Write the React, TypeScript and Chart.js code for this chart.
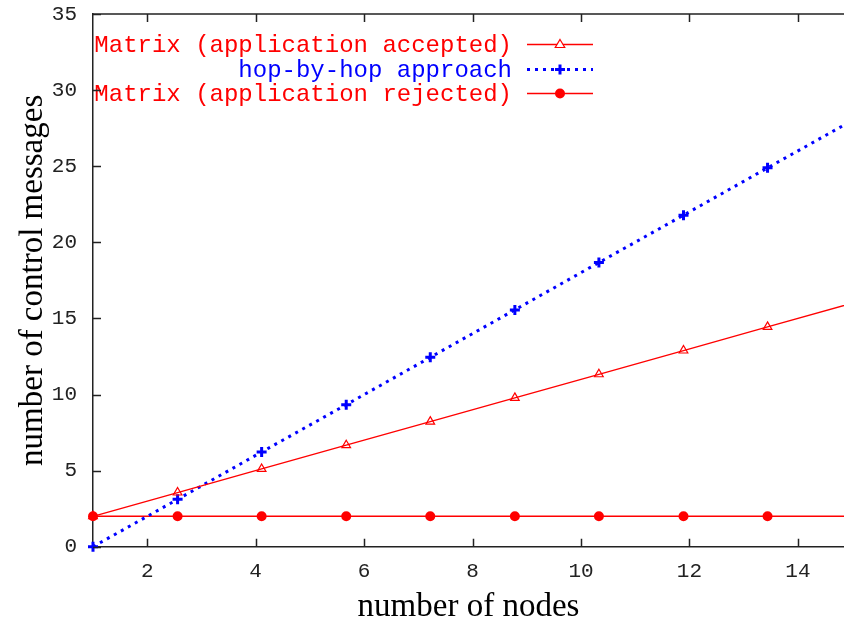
import React, { useEffect, useRef } from "react";
import { Chart, registerables } from "chart.js";

Chart.register(...registerables);

const NODES = [1, 2.56, 4.11, 5.67, 7.22, 8.78, 10.33, 11.89, 13.44, 15];
const ACCEPTED = [2, 3.56, 5.11, 6.67, 8.22, 9.78, 11.33, 12.89, 14.44, 16];
const HOP = [0, 3.11, 6.22, 9.33, 12.44, 15.56, 18.67, 21.78, 24.89, 28];
const REJECTED = [2, 2, 2, 2, 2, 2, 2, 2, 2, 2];
const X_TICKS = [2, 4, 6, 8, 10, 12, 14];
const Y_TICKS = [0, 5, 10, 15, 20, 25, 30, 35];
const SERIES_NAMES = [
  "Matrix (application accepted)",
  "hop-by-hop approach",
  "Matrix (application rejected)",
];
const X_TITLE = "number of nodes";
const Y_TITLE = "number of control messages";

const RED = "#ff0000";
const BLUE = "#0000ff";
const AXIS = "#222222";

const pts = (ys: number[]) => NODES.map((x, i) => ({ x, y: ys[i] }));

const framePlugin = {
  id: "gnuplotFrame",
  afterDraw(chart: any) {
    const { ctx, chartArea: a, scales } = chart;
    ctx.save();
    ctx.strokeStyle = AXIS;
    ctx.lineWidth = 1.5;
    ctx.beginPath();
    ctx.moveTo(a.left, a.top);
    ctx.lineTo(a.right, a.top);
    const tl = 8;
    for (const v of X_TICKS) {
      const px = Math.round(scales.x.getPixelForValue(v)) + 0.5;
      ctx.moveTo(px, a.bottom);
      ctx.lineTo(px, a.bottom - tl);
      ctx.moveTo(px, a.top);
      ctx.lineTo(px, a.top + tl);
    }
    for (const v of Y_TICKS) {
      const py = Math.round(scales.y.getPixelForValue(v)) + 0.5;
      ctx.moveTo(a.left, py);
      ctx.lineTo(a.left + tl, py);
    }
    ctx.stroke();
    ctx.restore();
  },
};

function drawMarker(ctx: CanvasRenderingContext2D, kind: number, x: number, y: number, color: string) {
  ctx.save();
  ctx.strokeStyle = color;
  ctx.fillStyle = color;
  if (kind === 0) {
    const r = 5;
    ctx.lineWidth = 1.2;
    ctx.beginPath();
    ctx.moveTo(x, y - r);
    ctx.lineTo(x + r * 0.95, y + r * 0.6);
    ctx.lineTo(x - r * 0.95, y + r * 0.6);
    ctx.closePath();
    ctx.fillStyle = "#ffffff";
    ctx.fill();
    ctx.stroke();
  } else if (kind === 1) {
    ctx.lineWidth = 3;
    ctx.beginPath();
    ctx.moveTo(x - 5, y);
    ctx.lineTo(x + 5, y);
    ctx.moveTo(x, y - 5);
    ctx.lineTo(x, y + 5);
    ctx.stroke();
  } else {
    ctx.beginPath();
    ctx.arc(x, y, 5, 0, Math.PI * 2);
    ctx.fill();
  }
  ctx.restore();
}

const legendPlugin = {
  id: "gnuplotLegend",
  afterDatasetsDraw(chart: any) {
    const { ctx } = chart;
    const rows = [44.5, 69.5, 93.5];
    const colors = [RED, BLUE, RED];
    ctx.save();
    ctx.font = "24px 'Liberation Mono', monospace";
    ctx.textAlign = "right";
    ctx.textBaseline = "middle";
    SERIES_NAMES.forEach((name, i) => {
      const y = rows[i];
      ctx.fillStyle = colors[i];
      ctx.fillText(name, 512, y + 1);
      ctx.strokeStyle = colors[i];
      ctx.beginPath();
      if (i === 1) {
        ctx.lineWidth = 3;
        ctx.setLineDash([3, 5]);
      } else {
        ctx.lineWidth = 1.3;
        ctx.setLineDash([]);
      }
      ctx.moveTo(527, y);
      ctx.lineTo(593, y);
      ctx.stroke();
      ctx.setLineDash([]);
      drawMarker(ctx, i, 560, y, colors[i]);
    });
    ctx.restore();
  },
};

export default function App() {
  const ref = useRef<HTMLCanvasElement | null>(null);
  useEffect(() => {
    if (!ref.current) return;
    const chart = new Chart(ref.current, {
      type: "scatter",
      data: {
        datasets: [
          {
            label: SERIES_NAMES[0],
            data: pts(ACCEPTED),
            showLine: true,
            borderColor: RED,
            borderWidth: 1.3,
            pointStyle: "triangle",
            pointRadius: 5,
            pointBorderWidth: 1.2,
            pointBorderColor: RED,
            pointBackgroundColor: "rgba(255,255,255,0)",
            clip: false as any,
          },
          {
            label: SERIES_NAMES[1],
            data: pts(HOP),
            showLine: true,
            borderColor: BLUE,
            borderWidth: 3,
            borderDash: [3, 5],
            pointStyle: "cross",
            pointRadius: 5,
            pointBorderWidth: 3,
            pointBorderColor: BLUE,
            pointBackgroundColor: BLUE,
            clip: false as any,
          },
          {
            label: SERIES_NAMES[2],
            data: pts(REJECTED),
            showLine: true,
            borderColor: RED,
            borderWidth: 1.3,
            pointStyle: "circle",
            pointRadius: 5,
            pointBorderWidth: 0,
            pointBackgroundColor: RED,
            clip: false as any,
          },
        ],
      },
      options: {
        animation: false,
        responsive: false,
        events: [],
        layout: { autoPadding: false, padding: { top: 14, right: 0, left: 0, bottom: 0 } },
        plugins: {
          legend: { display: false },
          tooltip: { enabled: false },
        },
        scales: {
          x: {
            type: "linear",
            min: 1,
            max: 14.85,
            afterBuildTicks: (s: any) => {
              s.ticks = X_TICKS.map((v) => ({ value: v }));
            },
            afterFit: (s: any) => {
              s.height = 75.3;
              s.paddingLeft = 0;
              s.paddingRight = 0;
            },
            grid: { display: false, drawTicks: false },
            border: { display: true, color: AXIS, width: 1.5 },
            ticks: {
              padding: 12,
              color: AXIS,
              font: { family: "'Liberation Mono', monospace", size: 21 },
              maxRotation: 0,
            },
            title: {
              display: true,
              text: X_TITLE,
              color: "#000",
              font: { family: "'Liberation Serif', serif", size: 33, lineHeight: 1 },
              padding: { top: 0, bottom: -2 },
            },
          },
          y: {
            type: "linear",
            min: 0,
            max: 35,
            afterBuildTicks: (s: any) => {
              s.ticks = Y_TICKS.map((v) => ({ value: v }));
            },
            afterFit: (s: any) => {
              s.width = 93;
              s.paddingTop = 0;
              s.paddingBottom = 0;
            },
            grid: { display: false, drawTicks: false },
            border: { display: true, color: AXIS, width: 1.5 },
            ticks: {
              padding: 16,
              color: AXIS,
              font: { family: "'Liberation Mono', monospace", size: 21 },
            },
            title: {
              display: true,
              text: Y_TITLE,
              color: "#000",
              font: { family: "'Liberation Serif', serif", size: 33, lineHeight: 1 },
              padding: { top: 17, bottom: 0 },
            },
          },
        },
      } as any,
      plugins: [framePlugin, legendPlugin],
    });
    return () => chart.destroy();
  }, []);
  return (
    <div style={{ position: "fixed", left: 0, top: 0, width: 844, height: 622, background: "#fff" }}>
      <canvas ref={ref} width={844} height={622} style={{ display: "block" }} />
    </div>
  );
}
